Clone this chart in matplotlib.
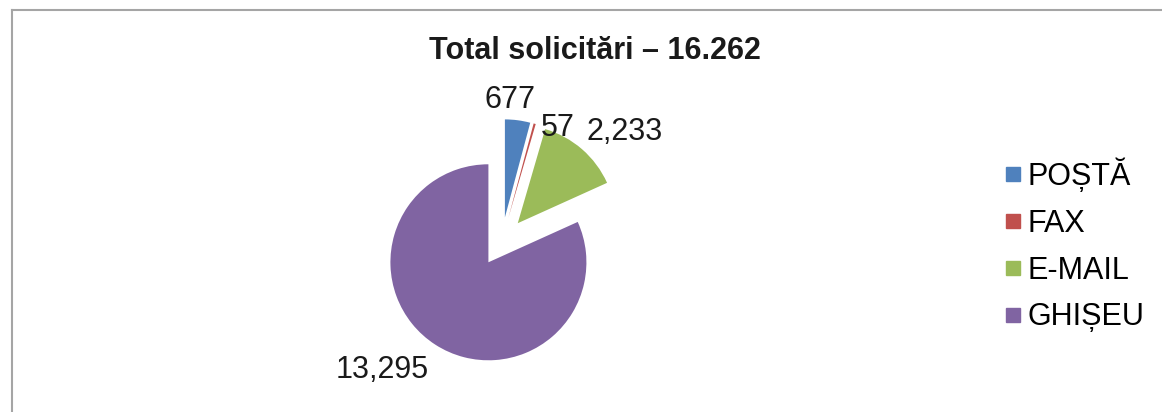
import numpy as np
import matplotlib
matplotlib.use("Agg")
import matplotlib.pyplot as plt
from matplotlib.lines import Line2D

plt.rcParams['font.family'] = ['Liberation Sans', 'DejaVu Sans']

# Data
categories = ["POȘTĂ", "FAX", "E-MAIL", "GHIȘEU"]
values = [677, 57, 2233, 13295]
value_labels = ["677", "57", "2,233", "13,295"]
colors = ["#4F81BD", "#C0504D", "#9BBB59", "#8064A2"]
title = "Total solicitări – 16.262"

# Layout: label positions around the pie (in pie-radius units)
label_pos = [(0.085, 1.446), (0.574, 1.160), (1.258, 1.119), (-1.221, -1.309)]

fig = plt.figure(figsize=(11.62, 4.12), dpi=100)

# pie axes, radius 1 -> ~98 px
half = 160 / 98
ax = fig.add_axes([(501.7 - 160) / 1162, (412 - 241.7 - 160) / 412, 320 / 1162, 320 / 412])
ax.pie(values, colors=colors, startangle=90, counterclock=False,
       explode=[0.25] * len(values), radius=1,
       wedgeprops=dict(linewidth=0))
ax.set_xlim(-half, half)
ax.set_ylim(-half, half)
ax.set_aspect("equal")
ax.axis("off")

for (x, y), txt in zip(label_pos, value_labels):
    ax.text(x, y, txt, ha="center", va="center", fontsize=22, color="#1a1a1a")

fig.text(595 / 1162, 1 - 51 / 412, title, ha="center", va="center",
         fontsize=22, fontweight="bold", color="#1a1a1a")

# legend with square markers
handles = [Line2D([], [], marker="s", linestyle="none", markersize=10.5,
                  markerfacecolor=c, markeredgecolor=c) for c in colors]
fig.legend(handles, categories, loc="center left",
           bbox_to_anchor=(1002 / 1162, 1 - 245 / 412),
           frameon=False, fontsize=22, handlelength=0.7, handletextpad=0.12,
           borderpad=0, borderaxespad=0, labelspacing=0.55)

# chart frame (left and top edges)
fig.add_artist(Line2D([12 / 1162, 12 / 1162], [0, 1 - 10 / 412],
                      transform=fig.transFigure, color="#a5a5a5", lw=1.5))
fig.add_artist(Line2D([12 / 1162, 1], [1 - 10 / 412, 1 - 10 / 412],
                      transform=fig.transFigure, color="#a5a5a5", lw=1.5))

fig.savefig("out.png", dpi=100)
